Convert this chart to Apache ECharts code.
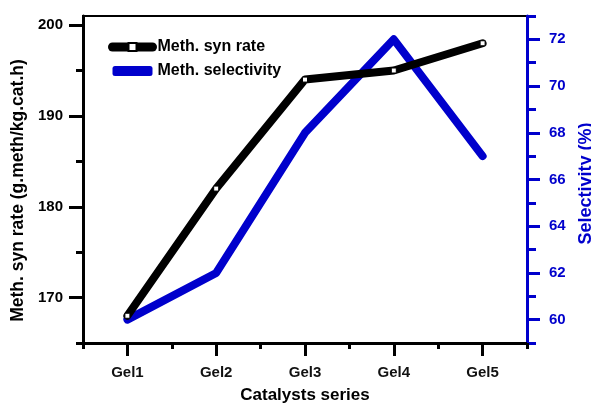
<!DOCTYPE html>
<html>
<head>
<meta charset="utf-8">
<script src="https://cdn.jsdelivr.net/npm/echarts@6/dist/echarts.min.js"></script>
<style>
  html, body { margin: 0; padding: 0; background: #fff; }
  #chart { width: 591px; height: 403px; }
</style>
</head>
<body>
<div id="chart"></div>
<script>
// Catalyst samples on the x axis
const catalysts = ['Gel1', 'Gel2', 'Gel3', 'Gel4', 'Gel5'];
// Methanol synthesis rate, g.meth/kg.cat.h (left axis)
const synRate = [168, 182, 194, 195, 198];
// Methanol selectivity, % (right axis)
const selectivity = [60, 62, 68, 72, 67];

// Tick positions
const rateMajorTicks = [170, 180, 190, 200];
const rateMinorTicks = [165, 175, 185, 195];
const selMajorTicks = [60, 62, 64, 66, 68, 70, 72];
const selMinorTicks = [59, 61, 63, 65, 67, 69, 71, 73];

const BLUE = '#0000cc';
const FONT = 'Liberation Sans, Arial, sans-serif';

const chart = echarts.init(document.getElementById('chart'), null, { renderer: 'canvas' });

const option = {
  animation: false,
  backgroundColor: '#fff',
  grid: {
    left: 83, right: 64, top: 16, bottom: 60,
    outerBoundsMode: 'none', containLabel: false,
    show: true, borderColor: '#000', borderWidth: 2, backgroundColor: 'transparent'
  },
  legend: {
    left: 108, top: 39, orient: 'vertical', padding: 0,
    itemWidth: 40, itemHeight: 10, itemGap: 8,
    lineStyle: { width: 9, cap: 'round' },
    textStyle: { fontFamily: FONT, fontWeight: 'bold', fontSize: 16, color: '#000' },
    data: [
      { name: 'Meth. syn rate' },
      { name: 'Meth. selectivity', icon: 'roundRect' }
    ]
  },
  xAxis: [
    {
      type: 'category', data: catalysts, boundaryGap: true,
      name: 'Catalysts series', nameLocation: 'middle', nameGap: 44,
      nameTextStyle: { fontFamily: FONT, fontWeight: 'bold', fontSize: 17, color: '#000' },
      axisLine: { show: true, lineStyle: { color: '#000', width: 3 } },
      axisTick: { show: true, alignWithLabel: true, length: 13, lineStyle: { color: '#000', width: 3 } },
      axisLabel: { fontFamily: FONT, fontWeight: 'bold', fontSize: 15, color: '#111', margin: 22 },
      splitLine: { show: false }
    },
    {
      type: 'category', data: catalysts, boundaryGap: true, position: 'bottom',
      axisLine: { show: false },
      axisTick: { show: true, alignWithLabel: false, length: 6, lineStyle: { color: '#000', width: 3 } },
      axisLabel: { show: false },
      splitLine: { show: false }
    }
  ],
  yAxis: [
    {
      type: 'value', position: 'left', min: 165, max: 201,
      name: 'Meth. syn rate (g.meth/kg.cat.h)', nameLocation: 'middle', nameGap: 51,
      nameTextStyle: { fontFamily: FONT, fontWeight: 'bold', fontSize: 17.5, color: '#000', padding: [0, 22, 0, 0] },
      axisLine: { show: true, lineStyle: { color: '#000', width: 3 } },
      axisTick: { show: true, customValues: rateMajorTicks, length: 14, lineStyle: { color: '#000', width: 3 } },
      axisLabel: { customValues: rateMajorTicks, fontFamily: FONT, fontWeight: 'bold', fontSize: 15, color: '#000', margin: 20 },
      splitLine: { show: false }
    },
    {
      type: 'value', position: 'right', min: 59, max: 73,
      name: 'Selectivity (%)', nameLocation: 'middle', nameGap: 41,
      nameTextStyle: { fontFamily: FONT, fontWeight: 'bold', fontSize: 18, color: BLUE, padding: [0, 8, 0, 0] },
      axisLine: { show: true, lineStyle: { color: BLUE, width: 3 } },
      axisTick: { show: true, customValues: selMajorTicks, length: 13, lineStyle: { color: BLUE, width: 3 } },
      axisLabel: { customValues: selMajorTicks, fontFamily: FONT, fontWeight: 'bold', fontSize: 15, color: BLUE, margin: 22 },
      splitLine: { show: false }
    },
    {
      type: 'value', position: 'left', min: 165, max: 201,
      axisLine: { show: false },
      axisTick: { show: true, customValues: rateMinorTicks, length: 7, lineStyle: { color: '#000', width: 3 } },
      axisLabel: { show: false },
      splitLine: { show: false }
    },
    {
      type: 'value', position: 'right', min: 59, max: 73,
      axisLine: { show: false },
      axisTick: { show: true, customValues: selMinorTicks, length: 9, lineStyle: { color: BLUE, width: 3 } },
      axisLabel: { show: false },
      splitLine: { show: false }
    }
  ],
  series: [
    {
      name: 'Meth. syn rate', type: 'line', xAxisIndex: 0, yAxisIndex: 0,
      data: synRate,
      lineStyle: { color: '#000', width: 8, cap: 'round', join: 'round' },
      itemStyle: { color: '#fff', borderColor: '#000', borderWidth: 1 },
      symbol: 'rect', symbolSize: 5, showSymbol: true, z: 3
    },
    {
      name: 'Meth. selectivity', type: 'line', xAxisIndex: 0, yAxisIndex: 1,
      data: selectivity,
      lineStyle: { color: BLUE, width: 8, cap: 'round', join: 'round' },
      itemStyle: { color: BLUE },
      symbol: 'none', z: 2
    }
  ]
};

chart.setOption(option);
</script>
</body>
</html>
